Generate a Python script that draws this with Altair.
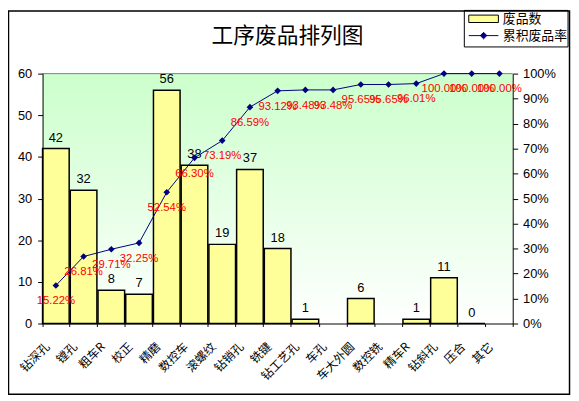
import altair as alt
import pandas as pd

categories = ["钻深孔", "镗孔", "粗车R", "校正", "精磨", "数控车", "滚螺纹", "钻销孔", "铣键",
              "钻工艺孔", "车孔", "车大外圆", "数控铣", "精车R", "钻斜孔", "压合", "其它"]
counts = [42, 32, 8, 7, 56, 38, 19, 37, 18, 1, None, 6, None, 1, 11, 0, None]
cum_pct = [15.22, 26.81, 29.71, 32.25, 52.54, 66.30, 73.19, 86.59, 93.12, 93.48, 93.48,
           95.65, 95.65, 96.01, 100.00, 100.00, 100.00]
left_ticks = [0, 10, 20, 30, 40, 50, 60]
right_ticks = [0, 0.1, 0.2, 0.3, 0.4, 0.5, 0.6, 0.7, 0.8, 0.9, 1.0]
series_bar = "废品数"
series_line = "累积废品率"
title_text = "工序废品排列图"

df = pd.DataFrame({
    "cat": categories,
    "count": counts,
    "cum": [v / 100 for v in cum_pct],
    "s_bar": series_bar,
    "s_line": series_line,
})

W, H = 476, 253
CJK = "Noto Sans CJK SC"
LAT = "Liberation Sans"

rect_path = "M-1,-0.25H1V0.25H-1Z"
line_path = "M-1,0H1M0,-0.22L0.22,0L0,0.22L-0.22,0Z"

xenc = alt.X("cat:N", sort=categories, title=None,
             scale=alt.Scale(paddingInner=0.04, paddingOuter=0),
             axis=alt.Axis(labelAngle=-45, labelAlign="right", labelBaseline="middle",
                           labelFont=CJK, labelFontSize=12, tickBand="extent",
                           tickSize=3, labelPadding=18, labelOffset=-9, zindex=1,
                           labelOverlap=False))

yL = alt.Y("count:Q", title=None,
           scale=alt.Scale(domain=[0, 60], nice=False),
           axis=alt.Axis(values=left_ticks, orient="left", labelFont=LAT, labelFontSize=13,
                         tickSize=5, labelPadding=6, zindex=1, labelOverlap=False))

yR = alt.Y("cum:Q", title=None,
           scale=alt.Scale(domain=[0, 1], nice=False),
           axis=alt.Axis(values=right_ticks, tickCount=11, orient="right", format=".0%",
                         labelFont=LAT, labelFontSize=13, tickSize=5, labelPadding=5,
                         zindex=1, labelOverlap=False, labelBound=False))

one = pd.DataFrame({"t": [title_text]})

bg = alt.Chart(one).mark_rect(
    color=alt.LinearGradient(gradient="linear",
                             stops=[alt.GradientStop(color="#ccffcc", offset=0),
                                    alt.GradientStop(color="#d8ffd8", offset=0.25),
                                    alt.GradientStop(color="#ffffff", offset=1)],
                             x1=0, x2=0, y1=0, y2=1)
).encode(x=alt.value(0), x2=alt.value("width"), y=alt.value(0), y2=alt.value("height"))

frame = alt.Chart(one).mark_rect(fill=None, stroke="black", strokeWidth=1.5).encode(
    x=alt.value(-34.5), x2=alt.value(533.5), y=alt.value(-63.5), y2=alt.value(324.5))

legbox = alt.Chart(one).mark_rect(fill=None, stroke="black", strokeWidth=1).encode(
    x=alt.value(427), x2=alt.value(532), y=alt.value(-64), y2=alt.value(-27))

topline = alt.Chart(one).mark_rule(color="#808080", strokeWidth=1).encode(
    x=alt.value(0), x2=alt.value("width"), y=alt.value(0))

title = alt.Chart(one).mark_text(font=CJK, fontSize=22, color="black", align="center",
                                 baseline="middle").encode(
    x=alt.value(W / 2 + 10), y=alt.value(-38), text="t:N")

base = alt.Chart(df)

bars = base.mark_bar(stroke="black", strokeWidth=1.5).encode(
    x=xenc,
    y=yL,
    fill=alt.Fill("s_bar:N", scale=alt.Scale(domain=[series_bar], range=["#ffff99"]),
                  legend=alt.Legend(orient="none", legendX=431, legendY=-71, title=None,
                                    symbolType=rect_path, symbolSize=900,
                                    symbolStrokeColor="black", symbolStrokeWidth=1,
                                    labelFont=CJK, labelFontSize=13, labelOffset=4,
                                    labelColor="black")),
)

bar_text = base.transform_filter("isValid(datum.count)").mark_text(
    baseline="alphabetic", dy=-7, font=LAT, fontSize=13, color="black"
).encode(x=xenc, y=yL, text=alt.Text("count:Q", format="d"))

left = alt.layer(bg, topline, frame, legbox, title, bars, bar_text)

line = base.mark_line(strokeWidth=1).encode(
    x=xenc,
    y=yR,
    stroke=alt.Stroke("s_line:N", scale=alt.Scale(domain=[series_line], range=["#000080"]),
                      legend=alt.Legend(orient="none", legendX=431, legendY=-54, title=None,
                                        symbolType=line_path, symbolSize=900,
                                        symbolFillColor="#000080", symbolStrokeWidth=1,
                                        labelFont=CJK, labelFontSize=13, labelOffset=4,
                                        labelColor="black")),
)

points = base.mark_point(shape="diamond", filled=True, color="#000080", size=45, opacity=1).encode(
    x=xenc, y=yR)

pct_text = base.mark_text(baseline="middle", dy=16, font=LAT, fontSize=11.5, color="#ff0000").encode(
    x=xenc, y=yR, text=alt.Text("cum:Q", format=".2%"))

right = alt.layer(line, points, pct_text)

chart = alt.layer(left, right).resolve_scale(y="independent").properties(
    width=W, height=H,
    autosize=alt.AutoSizeParams(type="none"),
    padding={"left": 35, "top": 64, "right": 59, "bottom": 75},
).configure_view(stroke=None).configure_axis(
    domainColor="black", tickColor="black", labelColor="black", grid=False, domainWidth=1
)

chart.save("out.html", embed_options={"renderer": "svg", "actions": False})
